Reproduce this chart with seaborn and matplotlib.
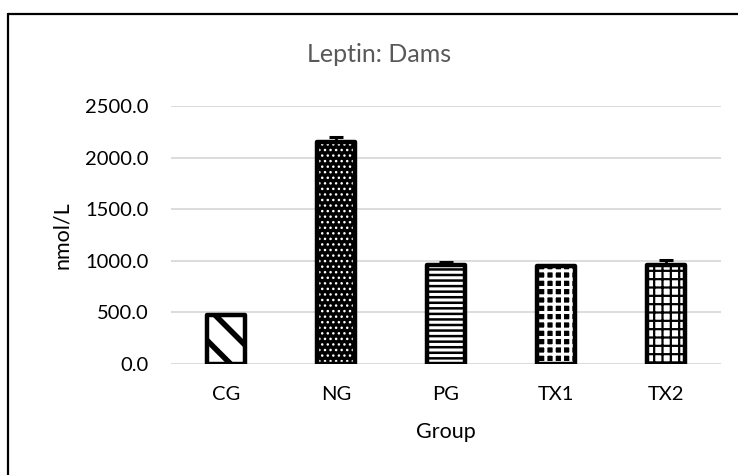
import numpy as np
import pandas as pd
import matplotlib
matplotlib.use("Agg")
import matplotlib.pyplot as plt
import seaborn as sns
from matplotlib.lines import Line2D
from matplotlib.ticker import MultipleLocator, FormatStrFormatter

# データ
groups = ["CG", "NG", "PG", "TX1", "TX2"]
leptin = [470, 2150, 955, 950, 955]
leptin_err = [10, 50, 30, 10, 50]

sns.set_theme(style="white")
plt.rcParams["font.family"] = ["Lato", "DejaVu Sans"]
plt.rcParams["hatch.linewidth"] = 2.0

df = pd.DataFrame({"Group": groups, "nmol/L": leptin})

fig = plt.figure(figsize=(7.38, 4.75), dpi=100)
ax = fig.add_axes([171 / 738, 1 - 364 / 475, 550 / 738, 258 / 475])

# 模様付きの棒
sns.barplot(data=df, x="Group", y="nmol/L", ax=ax, color="white",
            width=0.35, errorbar=None, linewidth=0, saturation=1)

# 模様の設定 (面の色, 模様の色, 模様, 模様の太さ)
styles = [
    ("white", "black", "\\", 4.0),
    ("black", "white", "...", 1.0),
    ("white", "black", "---", 1.8),
    ("black", "white", "++", 2.2),
    ("white", "black", "++", 1.6),
]
for patch, (fc, hc, hatch, hlw) in zip(ax.patches, styles):
    patch.set_facecolor(fc)
    patch.set_edgecolor(hc)
    patch.set_hatch(hatch)
    patch.set_linewidth(0)
    if hasattr(patch, "set_hatch_linewidth"):
        patch.set_hatch_linewidth(hlw)

# 黒い枠線
sns.barplot(data=df, x="Group", y="nmol/L", ax=ax, color="black", fill=False,
            width=0.35, errorbar=None, linewidth=3.2, saturation=1)
for patch in ax.patches[len(groups):]:
    patch.set_joinstyle("round")

# 誤差棒（上方向のみ）
ax.errorbar(np.arange(len(groups)), leptin, yerr=[np.zeros(len(groups)), leptin_err],
            fmt="none", ecolor="black", elinewidth=2, capsize=5, capthick=2.2, zorder=5)

ax.set_ylim(0, 2500)
ax.set_xlim(-0.5, len(groups) - 0.5)
ax.yaxis.set_major_locator(MultipleLocator(500))
ax.yaxis.set_major_formatter(FormatStrFormatter("%.1f"))
ax.grid(axis="y", color="#d9d9d9", linewidth=1.3)
ax.set_axisbelow(True)
for s in ax.spines.values():
    s.set_visible(False)
ax.tick_params(axis="both", length=0, labelsize=14.5, colors="black")
ax.tick_params(axis="y", pad=16)
ax.tick_params(axis="x", pad=16)
ax.set_xlabel("")
ax.set_ylabel("")

fig.text(379 / 738, 1 - 54 / 475, "Leptin: Dams", ha="center", va="center",
         fontsize=18, color="#595959")
fig.text(62 / 738, 1 - 235 / 475, "nmol/L", ha="center", va="center",
         rotation=90, fontsize=15.5, color="black")
fig.text(446 / 738, 1 - 432 / 475, "Group", ha="center", va="center",
         fontsize=15.5, color="black")

# 外枠（左と上）
fig.add_artist(Line2D([8 / 738, 8 / 738], [0, 1 - 14 / 475], transform=fig.transFigure,
                      color="black", linewidth=1.6))
fig.add_artist(Line2D([8 / 738, 1], [1 - 14 / 475, 1 - 14 / 475], transform=fig.transFigure,
                      color="black", linewidth=1.6))

fig.savefig("out.png", dpi=100)
